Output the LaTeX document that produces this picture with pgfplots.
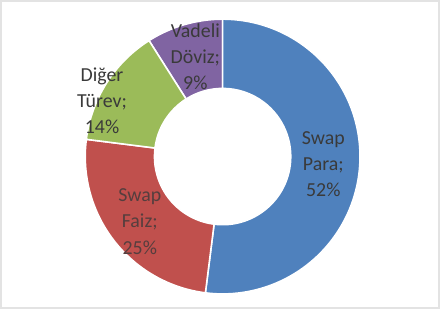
\documentclass[border=0pt]{standalone}
\usepackage{pgfplots}
\pgfplotsset{compat=1.18}
\usepackage{pgfplotstable}
\usepackage{fontspec}
\setmainfont{Carlito}
\definecolor{cBlue}{HTML}{4F81BD}
\definecolor{cRed}{HTML}{C0504D}
\definecolor{cGreen}{HTML}{9BBB59}
\definecolor{cPurple}{HTML}{8064A2}
\definecolor{cText}{HTML}{3A3A3A}
\definecolor{cFrame}{HTML}{E3E3E3}
\pgfplotstableread[col sep=comma]{
name,value
Swap Para,52
Swap Faiz,25
Diger Turev,14
Vadeli Doviz,9
}\pietable
\begin{document}
\begin{tikzpicture}
\begin{axis}[width=440bp,height=304bp,scale only axis,
  xmin=0,xmax=440,ymin=0,ymax=304,hide axis,clip=false]
% frame
\draw[cFrame,line width=1.6bp] (axis cs:13.5,300.5) rectangle (axis cs:431.5,7.5);
\def\cx{225}\def\cy{152}
\def\Ro{131bp}\def\Ri{65bp}
\pgfplotstablegetelem{0}{value}\of\pietable\let\va\pgfplotsretval
\pgfplotstablegetelem{1}{value}\of\pietable\let\vb\pgfplotsretval
\pgfplotstablegetelem{2}{value}\of\pietable\let\vc\pgfplotsretval
\pgfplotstablegetelem{3}{value}\of\pietable\let\vd\pgfplotsretval
\pgfmathsetmacro{\aA}{90}
\pgfmathsetmacro{\aB}{90-3.6*\va}
\pgfmathsetmacro{\aC}{\aB-3.6*\vb}
\pgfmathsetmacro{\aD}{\aC-3.6*\vc}
\pgfmathsetmacro{\aE}{\aD-3.6*\vd}
\fill[cPurple,draw=white,line width=1.5bp] (axis cs:\cx,\cy) ++(\aD:\Ro) arc[start angle=\aD,end angle=\aE,radius=\Ro] -- ++(\aE:-66bp) arc[start angle=\aE,end angle=\aD,radius=\Ri] -- cycle;
\node[text=cText,font=\fontsize{19}{25}\selectfont,align=center] at (axis cs:199,247) {Vadeli\\Döviz;\\9\%};
\fill[cBlue,draw=white,line width=1.5bp] (axis cs:\cx,\cy) ++(\aA:\Ro) arc[start angle=\aA,end angle=\aB,radius=\Ro] -- ++(\aB:-66bp) arc[start angle=\aB,end angle=\aA,radius=\Ri] -- cycle;
\fill[cRed,draw=white,line width=1.5bp] (axis cs:\cx,\cy) ++(\aB:\Ro) arc[start angle=\aB,end angle=\aC,radius=\Ro] -- ++(\aC:-66bp) arc[start angle=\aC,end angle=\aB,radius=\Ri] -- cycle;
\fill[cGreen,draw=white,line width=1.5bp] (axis cs:\cx,\cy) ++(\aC:\Ro) arc[start angle=\aC,end angle=\aD,radius=\Ro] -- ++(\aD:-66bp) arc[start angle=\aD,end angle=\aC,radius=\Ri] -- cycle;
\node[text=cText,font=\fontsize{19}{25}\selectfont,align=center] at (axis cs:321,145) {Swap\\Para;\\52\%};
\node[text=cText!80!cRed,font=\fontsize{19}{25}\selectfont,align=center] at (axis cs:146,90) {Swap\\Faiz;\\25\%};
\node[text=cText,font=\fontsize{19}{25}\selectfont,align=center] at (axis cs:110,205) {Diğer\\Türev;\\14\%};
\end{axis}
\end{tikzpicture}
\end{document}
